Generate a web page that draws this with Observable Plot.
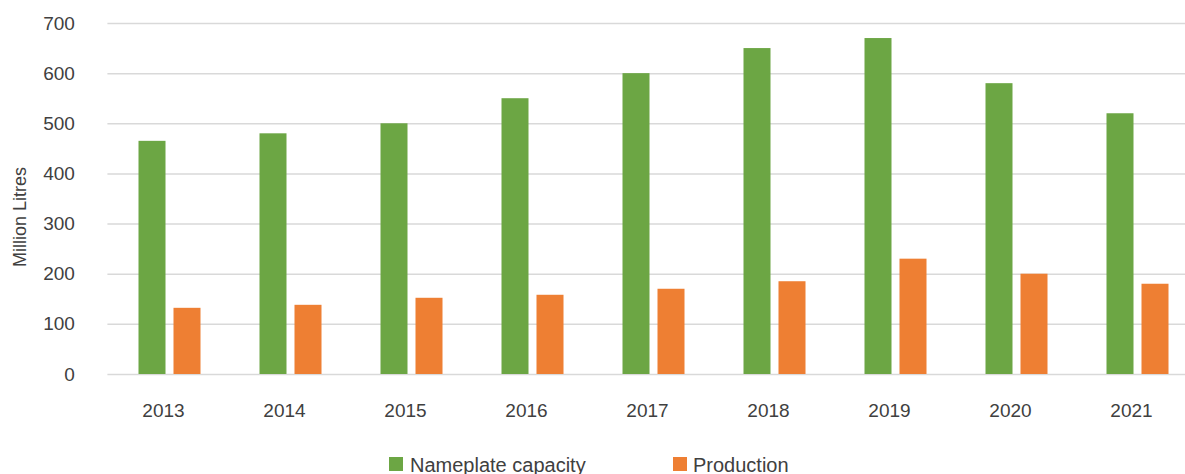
<!DOCTYPE html>
<html>
<head>
<meta charset="utf-8">
<script src="https://cdn.jsdelivr.net/npm/d3@7"></script>
<script src="https://cdn.jsdelivr.net/npm/@observablehq/plot@0.6"></script>
<style>
  body { margin: 0; background: #fff; }
  #wrap { position: relative; width: 1185px; height: 474px; overflow: hidden; font-family: "Liberation Sans", Arial, sans-serif; color: #404040; }
  #chart { position: absolute; left: 0; top: 0; width: 1199px; }
  #chart svg { max-width: none !important; }
  .ytitle { position: absolute; left: 20px; top: 217px; transform: translate(-50%, -50%) rotate(-90deg); font-size: 18px; white-space: nowrap; }
  .sw { position: absolute; width: 14px; height: 14px; }
  .lt { position: absolute; font-size: 20px; line-height: 20px; white-space: nowrap; }
</style>
</head>
<body>
<div id="wrap">
  <div id="chart"></div>
  <div class="ytitle">Million Litres</div>
  <div class="sw" style="left:389px;top:457px;background:#6ca644"></div>
  <div class="lt" style="left:410px;top:455px">Nameplate capacity</div>
  <div class="sw" style="left:673px;top:457px;background:#ee7f33"></div>
  <div class="lt" style="left:693px;top:455px">Production</div>
</div>
<script>
const years = ["2013", "2014", "2015", "2016", "2017", "2018", "2019", "2020", "2021"];
const nameplate = [465, 480, 500, 550, 600, 650, 670, 580, 520];
const production = [132, 138, 152, 158, 170, 185, 230, 200, 180];
const yTicks = [0, 100, 200, 300, 400, 500, 600, 700];

const rows = years.map((y, i) => ({year: y, nameplate: nameplate[i], production: production[i]}));

const chart = Plot.plot({
  width: 1199,
  height: 474,
  marginLeft: 107.4,
  marginRight: 0,
  marginTop: 23,
  marginBottom: 100,
  style: {fontFamily: "'Liberation Sans', Arial, sans-serif", fontSize: "19px", color: "#404040", background: "transparent", maxWidth: "none"},
  x: {domain: years, paddingInner: 0.7773, paddingOuter: 0.3887, label: null},
  y: {domain: [0, 700], label: null},
  marks: [
    Plot.gridY(yTicks, {stroke: "#d9d9d9", strokeOpacity: 1, strokeWidth: 1.5}),
    Plot.barY(rows, {x: "year", y: "nameplate", fill: "#6ca644", dx: -17.5}),
    Plot.barY(rows, {x: "year", y: "production", fill: "#ee7f33", dx: 17.5}),
    Plot.axisX({tickSize: 0, tickPadding: 29, dx: -6.5, label: null, fill: "#404040"}),
    Plot.axisY(yTicks, {tickSize: 0, tickPadding: 33, label: null, fill: "#404040"})
  ]
});
document.getElementById("chart").appendChild(chart);
</script>
</body>
</html>
